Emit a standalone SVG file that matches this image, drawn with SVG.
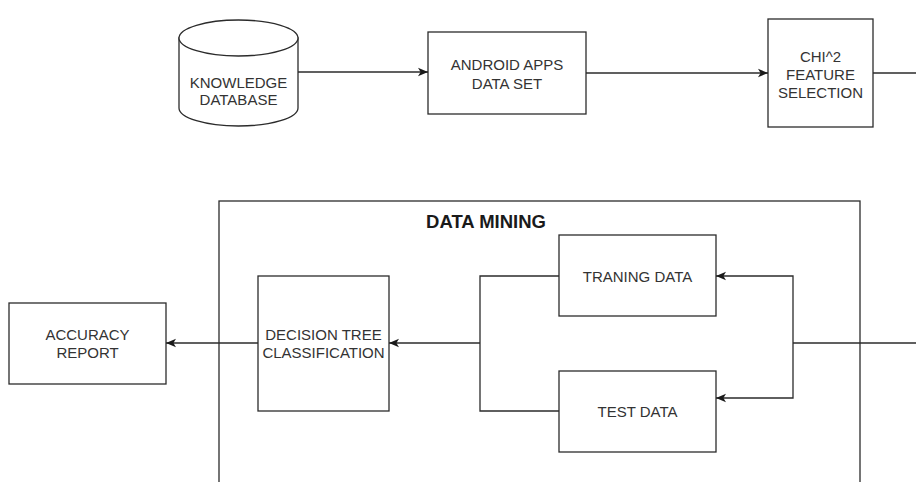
<svg xmlns="http://www.w3.org/2000/svg" width="916" height="482" viewBox="0 0 916 482">
  <style>
    .box { fill: #ffffff; stroke: #2b2b2b; stroke-width: 1.3; }
    .edge { fill: none; stroke: #2b2b2b; stroke-width: 1.3; }
    .lbl { font-family: "Liberation Sans", Arial, sans-serif; font-size: 15px; fill: #333333; text-anchor: middle; }
    .title { font-family: "Liberation Sans", Arial, sans-serif; font-size: 18.5px; font-weight: bold; fill: #1a1a1a; text-anchor: middle; }
  </style>
  <defs>
    <marker id="arr" markerUnits="userSpaceOnUse" markerWidth="12" markerHeight="10" refX="10" refY="5" orient="auto">
      <path d="M0,0.8 L10,5 L0,9.2 L2.6,5 Z" fill="#1a1a1a"/>
    </marker>
  </defs>
  <rect width="916" height="482" fill="#ffffff"/>

  <g id="data-mining">
    <rect class="box" x="219" y="201" width="641" height="320"/>
    <text class="title" x="486" y="228">DATA MINING</text>
  </g>

  <g id="knowledge-database">
    <path class="box" d="M179,38 L179,108 A59.5,18 0 0 0 298,108 L298,38 Z"/>
    <ellipse class="box" cx="238.5" cy="38" rx="59.5" ry="18"/>
    <text class="lbl" x="238.5" y="87.5">KNOWLEDGE</text>
    <text class="lbl" x="238.5" y="104.5">DATABASE</text>
  </g>

  <g id="android-apps">
    <rect class="box" x="428" y="32" width="158" height="82"/>
    <text class="lbl" x="507" y="69.5">ANDROID APPS</text>
    <text class="lbl" x="507" y="88.5">DATA SET</text>
  </g>

  <g id="chi2">
    <rect class="box" x="768" y="19" width="105" height="108"/>
    <text class="lbl" x="820.5" y="61.5">CHI^2</text>
    <text class="lbl" x="820.5" y="79.5">FEATURE</text>
    <text class="lbl" x="820.5" y="97.5">SELECTION</text>
  </g>

  <g id="training-data">
    <rect class="box" x="559" y="235" width="157" height="81"/>
    <text class="lbl" x="637.5" y="281.5">TRANING DATA</text>
  </g>

  <g id="test-data">
    <rect class="box" x="559" y="371" width="157" height="81"/>
    <text class="lbl" x="637.5" y="417">TEST DATA</text>
  </g>

  <g id="decision-tree">
    <rect class="box" x="258" y="276" width="131" height="135"/>
    <text class="lbl" x="323.5" y="339.5">DECISION TREE</text>
    <text class="lbl" x="323.5" y="358">CLASSIFICATION</text>
  </g>

  <g id="accuracy-report">
    <rect class="box" x="9" y="303" width="157" height="81"/>
    <text class="lbl" x="87.5" y="339.5">ACCURACY</text>
    <text class="lbl" x="87.5" y="358">REPORT</text>
  </g>

  <g id="connectors">
    <path class="edge" d="M298,72 L428,72" marker-end="url(#arr)"/>
    <path class="edge" d="M586,73 L768,73" marker-end="url(#arr)"/>
    <path class="edge" d="M873,73 L916,73"/>
    <path class="edge" d="M916,343 L793,343"/>
    <path class="edge" d="M793,343 L793,276 L716,276" marker-end="url(#arr)"/>
    <path class="edge" d="M793,343 L793,398 L716,398" marker-end="url(#arr)"/>
    <path class="edge" d="M559,276 L480,276 L480,411 L559,411"/>
    <path class="edge" d="M480,343 L389,343" marker-end="url(#arr)"/>
    <path class="edge" d="M258,343 L166,343" marker-end="url(#arr)"/>
  </g>
</svg>
